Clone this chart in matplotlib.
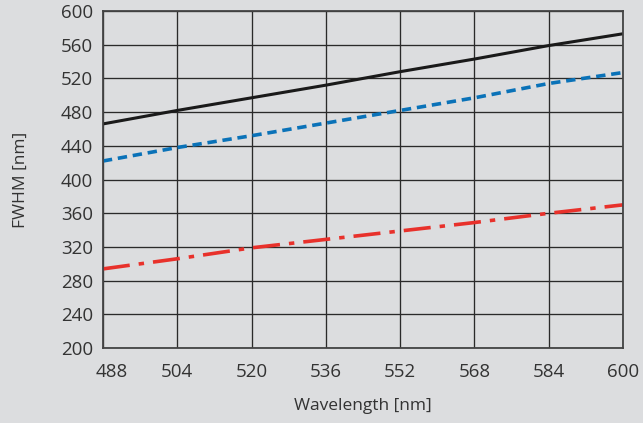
import matplotlib.pyplot as plt
import matplotlib.transforms as mtransforms
import numpy as np

# data
wavelength = [488, 504, 520, 536, 552, 568, 584, 600]
fwhm_black = [466, 482, 497, 512, 528, 543, 559, 573]
fwhm_blue = [422, 438, 452, 467, 482, 497, 514, 527]
fwhm_red = [294, 306, 319, 329, 339, 349, 360, 370]

xticks = [488, 504, 520, 536, 552, 568, 584, 600]
yticks = [200, 240, 280, 320, 360, 400, 440, 480, 520, 560, 600]

bg = '#dcdddf'
txt = '#333333'
plt.rcParams['font.family'] = ['Open Sans', 'DejaVu Sans']

fig = plt.figure(figsize=(6.43, 4.23), dpi=100, facecolor=bg)
ax = fig.add_axes([0.160, 0.177, 0.809, 0.797])
ax.set_facecolor(bg)

ax.plot(wavelength, fwhm_black, color='#1a1a1a', lw=2.2, solid_capstyle='butt')
ax.plot(wavelength, fwhm_blue, color='#0a72b8', lw=2.6, linestyle=(0, (2.6, 1.6)))
ax.plot(wavelength, fwhm_red, color='#e8312b', lw=2.6, linestyle=(0, (7.5, 2.5, 1.5, 2.5)))

ax.set_xlim(488, 600)
ax.set_ylim(200, 600)
ax.set_xticks(xticks)
ax.set_yticks(yticks)
ax.grid(True, color='#2a2a2a', lw=0.95)
ax.set_axisbelow(True)
for s in ax.spines.values():
    s.set_color('#444444')
    s.set_linewidth(1.3)
ax.tick_params(length=0, labelsize=13.5, colors=txt)
ax.tick_params(axis='x', pad=11)
ax.tick_params(axis='y', pad=7)

# nudge the first x label off the y axis
lab0 = ax.get_xticklabels()[0]
lab0.set_transform(lab0.get_transform() + mtransforms.ScaledTranslation(0.09, 0, fig.dpi_scale_trans))

ax.set_xlabel('Wavelength [nm]', fontsize=12.5, color=txt, labelpad=12)
ax.set_ylabel('FWHM [nm]', fontsize=12.5, color=txt, labelpad=23)

fig.savefig('out.png', dpi=100, facecolor=bg)
